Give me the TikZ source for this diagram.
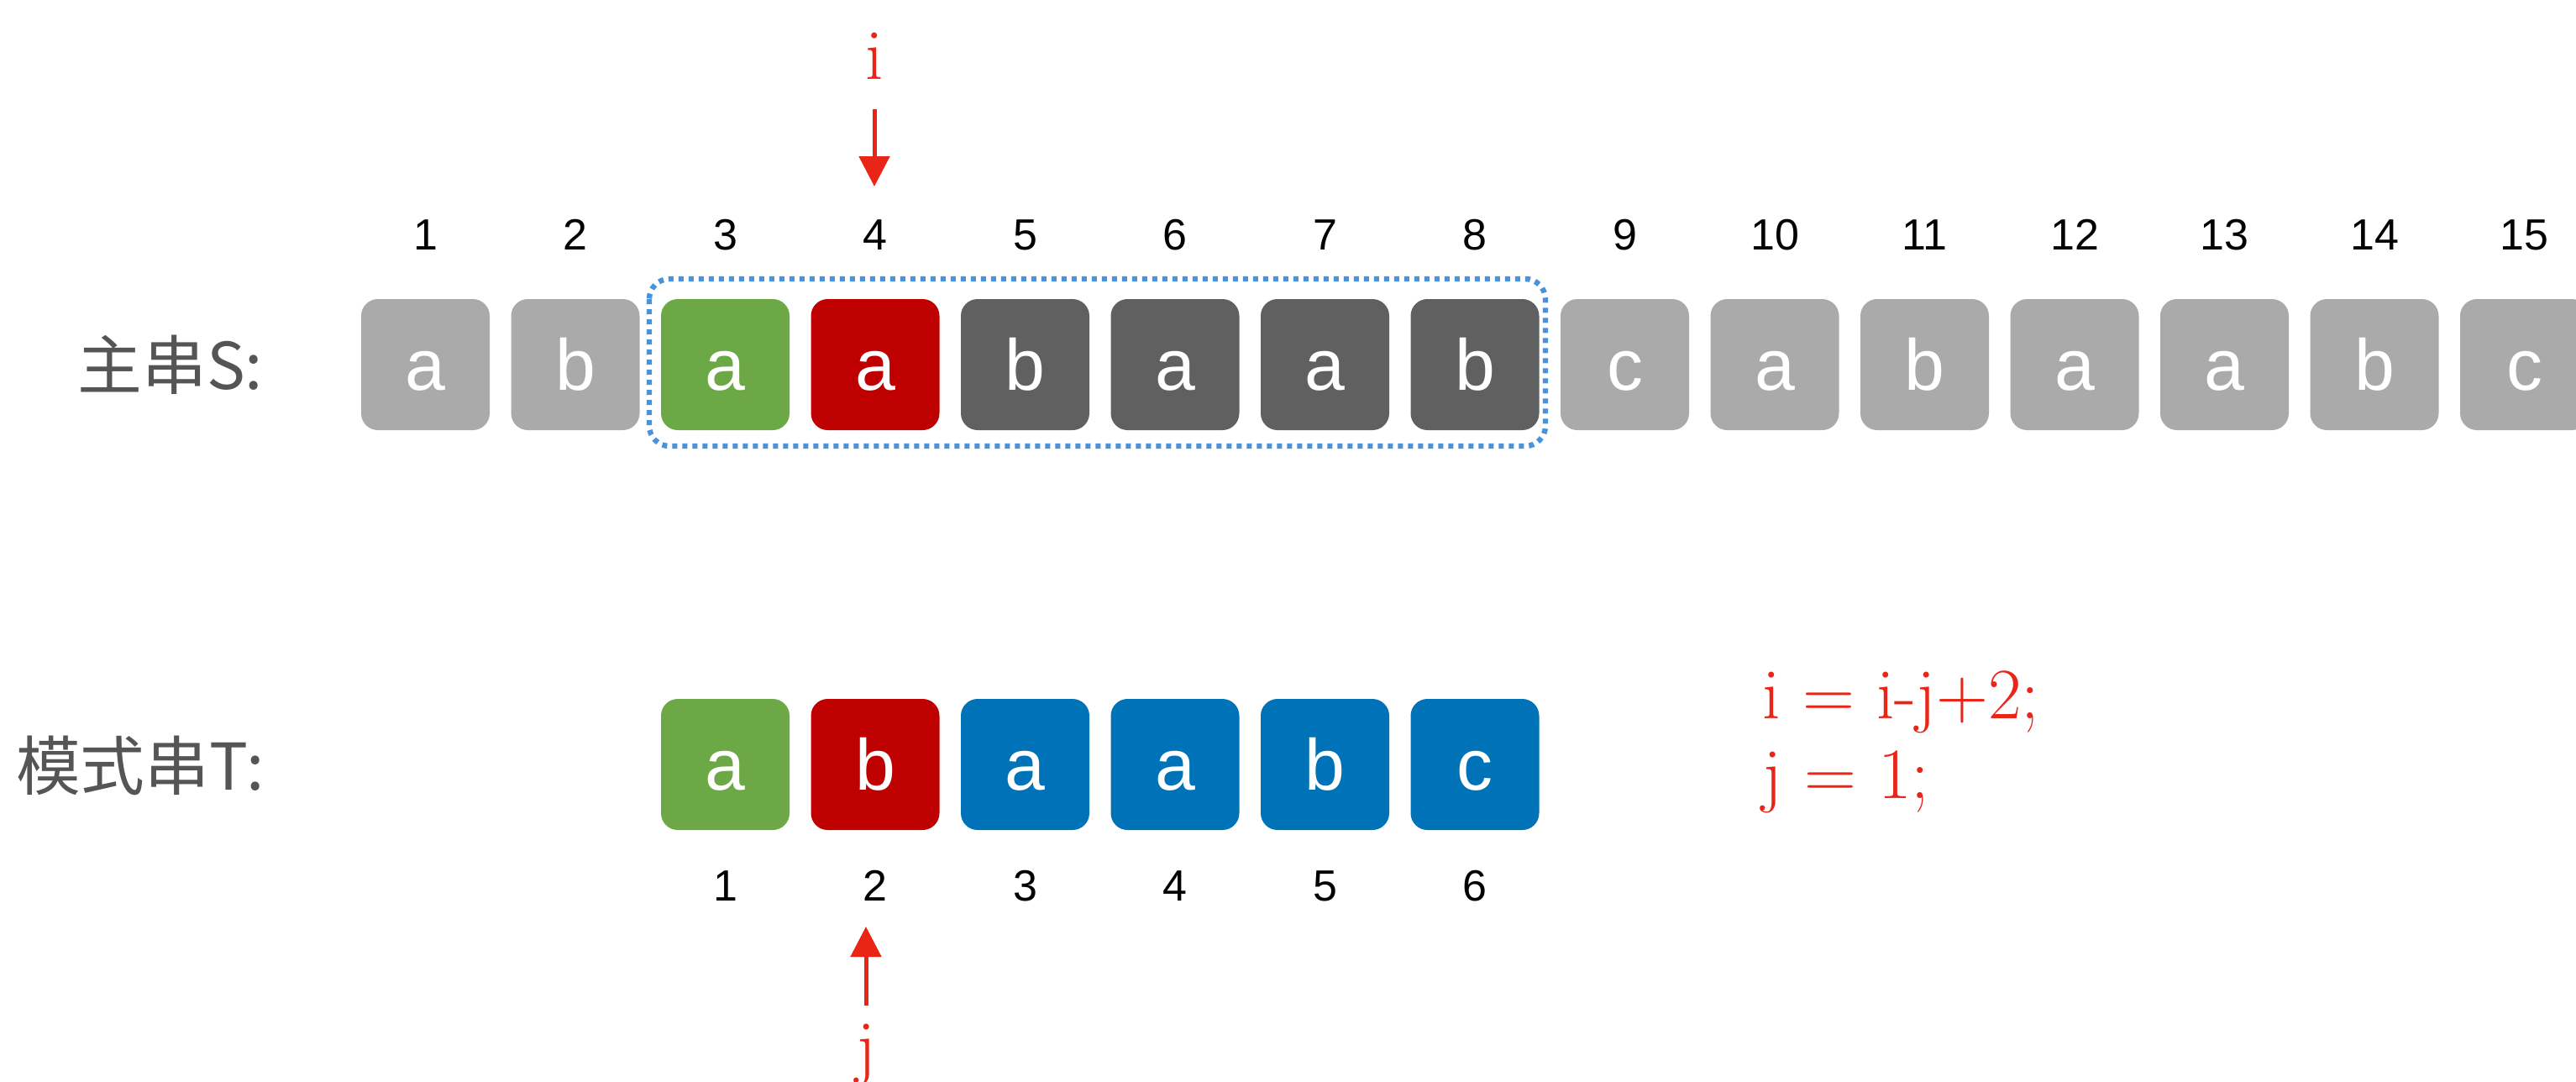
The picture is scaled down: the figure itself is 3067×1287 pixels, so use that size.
\documentclass[tikz,border=0pt]{standalone}
\usepackage{fontspec}
\newfontfamily\sansf{Liberation Sans}
\newfontfamily\cjkf{Noto Sans CJK SC}
\usetikzlibrary{arrows.meta}
\definecolor{lgray}{RGB}{170,170,170}
\definecolor{dgray}{RGB}{96,96,96}
\definecolor{mgreen}{RGB}{108,168,70}
\definecolor{mred}{RGB}{190,0,0}
\definecolor{mblue}{RGB}{0,115,184}
\definecolor{ptr}{RGB}{233,37,24}
\definecolor{winblue}{RGB}{74,146,217}
\definecolor{lbl}{RGB}{85,85,85}
\begin{document}
\begin{tikzpicture}[x=0.25pt,y=-0.25pt,
  cell/.style={rounded corners=5pt, minimum width=38.25pt, minimum height=39pt,
    inner sep=0pt, text=white, font=\sansf\fontsize{21.5}{21.5}\selectfont,
    text height=15pt, text depth=0pt},
  idx/.style={anchor=base, inner sep=0pt, font=\sansf\fontsize{13}{13}\selectfont},
  lbltext/.style={anchor=base east, inner sep=0pt, text=lbl, font=\cjkf\fontsize{19.2}{19.2}\selectfont},
  ptrtext/.style={inner sep=0pt, text=ptr, font=\fontsize{21.5}{21.5}\selectfont},
  ptrarrow/.style={draw=ptr, line width=1.25pt, -{Triangle[length=9pt,width=9pt]}},
  window/.style={draw=winblue, line width=1.6pt, dash pattern=on 1.5pt off 1.5pt, rounded corners=6pt}]
\useasboundingbox (0,0) rectangle (3067,1287);
\clip (0,0) rectangle (3067,1287);
% window
\draw[window] (773,332) rectangle (1840,531);
% main string
\foreach \ch/\col [count=\n] in {a/lgray,b/lgray,a/mgreen,a/mred,b/dgray,a/dgray,a/dgray,b/dgray,c/lgray,a/lgray,b/lgray,a/lgray,a/lgray,b/lgray,c/lgray}{
  \pgfmathsetmacro\cx{506.5+(\n-1)*178.5}
  \node[cell, fill=\col] (s\n) at (\cx,434) {\ch};
  \node[idx] (si\n) at (\cx,297) {\n};
}
% pattern string
\foreach \ch/\col [count=\n] in {a/mgreen,b/mred,a/mblue,a/mblue,b/mblue,c/mblue}{
  \pgfmathsetmacro\cx{506.5+(\n+1)*178.5}
  \node[cell, fill=\col] (t\n) at (\cx,910) {\ch};
  \node[idx] (ti\n) at (\cx,1072) {\n};
}
% labels
\node[lbltext] (lS) at (314,463) {主串S:};
\node[lbltext] (lT) at (316,940) {模式串T:};
% pointers
\node[ptrtext, anchor=base] (ilab) at (1041,94) {i};
\coordinate (itail) at (1041,130);
\coordinate (itip) at (1041,222);
\draw[ptrarrow] (itail) -- (itip);
\coordinate (jtail) at (1031,1197);
\coordinate (jtip) at (1031,1103);
\draw[ptrarrow] (jtail) -- (jtip);
\node[ptrtext, anchor=base] (jlab) at (1031,1274) {j};
% formulas
\node[ptrtext, anchor=base west] (f1) at (2098,855) {i = i-j+2;};
\node[ptrtext, anchor=base west] (f2) at (2098,950) {j = 1;};
\end{tikzpicture}
\end{document}
